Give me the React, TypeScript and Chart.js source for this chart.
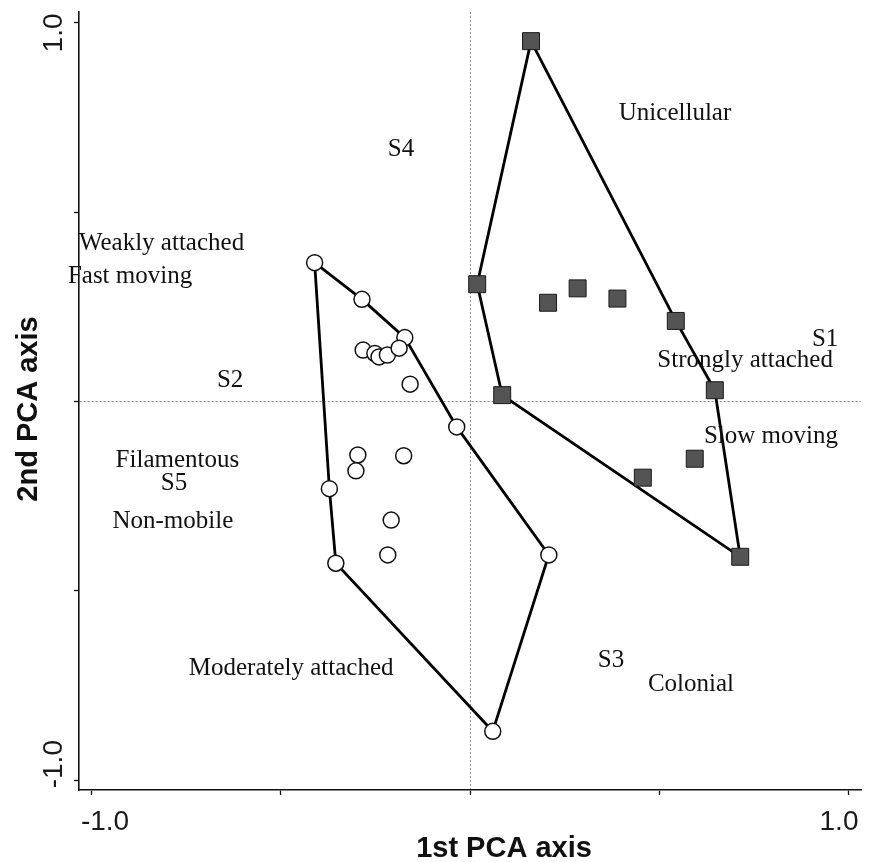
import React, { useEffect, useRef } from 'react';
import { Chart, registerables } from 'chart.js';

Chart.register(...registerables);

// Group 1 (filled squares)
const squareX = [0.161, 0.019, 0.206, 0.284, 0.389, 0.543, 0.085, 0.646, 0.593, 0.456, 0.713];
const squareY = [0.952, 0.31, 0.261, 0.299, 0.272, 0.213, 0.017, 0.03, -0.151, -0.201, -0.41];
const squareHull = [0, 5, 7, 10, 6, 1, 0];

// Group 2 (open circles)
const circleX = [-0.41, -0.285, -0.172, -0.282, -0.251, -0.24, -0.218, -0.187, -0.158, -0.035, -0.296, -0.301, -0.175, -0.371, -0.208, -0.217, -0.354, 0.208, 0.06];
const circleY = [0.367, 0.27, 0.169, 0.136, 0.127, 0.118, 0.123, 0.141, 0.046, -0.067, -0.141, -0.183, -0.143, -0.23, -0.313, -0.405, -0.427, -0.405, -0.871];
const circleHull = [0, 1, 2, 9, 17, 18, 16, 13, 0];

// Variable / trait labels (PCA coordinates)
const labelTexts = ['Unicellular', 'S4', 'Weakly attached', 'Fast moving', 'S2', 'Filamentous', 'S5', 'Non-mobile', 'S1', 'Strongly attached', 'Slow moving', 'Moderately attached', 'S3', 'Colonial'];
const labelX = [0.541, -0.182, -0.814, -0.897, -0.633, -0.772, -0.781, -0.784, 0.937, 0.726, 0.794, -0.472, 0.372, 0.583];
const labelY = [0.744, 0.649, 0.4, 0.313, 0.038, -0.173, -0.234, -0.334, 0.147, 0.091, -0.11, -0.723, -0.7, -0.764];

// Axes
const tickValues = [-1, -0.5, 0, 0.5, 1];
const tickLabels = ['-1.0', '', '', '', '1.0'];
const xTitle = '1st PCA axis';
const yTitle = '2nd PCA axis';
const axisMin = -1.0317;
const axisMax = 1.0317;
const yAxisMin = -1.026;
const yAxisMax = 1.029;

const overlay = {
  id: 'overlay',
  afterDraw(chart: any) {
    const { ctx, chartArea } = chart;
    const xs = chart.scales.x;
    const ys = chart.scales.y;
    ctx.save();
    // trait labels
    ctx.font = '25px "Liberation Serif", "Times New Roman", serif';
    ctx.fillStyle = '#111';
    ctx.textAlign = 'center';
    ctx.textBaseline = 'alphabetic';
    labelTexts.forEach((t, i) => {
      ctx.fillText(t, xs.getPixelForValue(labelX[i]), ys.getPixelForValue(labelY[i]));
    });
    // tick labels
    ctx.font = '28px "Liberation Sans", Arial, sans-serif';
    ctx.fillStyle = '#1a1a1a';
    tickValues.forEach((v, i) => {
      const t = tickLabels[i];
      if (!t) return;
      const px = xs.getPixelForValue(v) + (v < 0 ? 14 : -10);
      ctx.textAlign = 'center';
      ctx.fillText(t, px, chartArea.bottom + 40);
    });
    tickValues.forEach((v, i) => {
      const t = tickLabels[i];
      if (!t) return;
      const py = ys.getPixelForValue(v) + (v > 0 ? 10 : -16);
      ctx.save();
      ctx.translate(chartArea.left - 17, py);
      ctx.rotate(-Math.PI / 2);
      ctx.textAlign = 'center';
      ctx.fillText(t, 0, 0);
      ctx.restore();
    });
    // axis titles
    ctx.font = 'bold 29px "Liberation Sans", Arial, sans-serif';
    ctx.fillStyle = '#111';
    ctx.textAlign = 'center';
    ctx.fillText(xTitle, (chartArea.left + chartArea.right) / 2 + 34, chartArea.bottom + 67);
    ctx.save();
    ctx.translate(chartArea.left - 42, (chartArea.top + chartArea.bottom) / 2 + 8);
    ctx.rotate(-Math.PI / 2);
    ctx.fillText(yTitle, 0, 0);
    ctx.restore();
    ctx.restore();
  },
};

function axisOptions(min: number, max: number, fit: (s: any) => void) {
  return {
    type: 'linear' as const,
    min,
    max,
    afterBuildTicks: (s: any) => {
      s.ticks = tickValues.map((v) => ({ value: v }));
    },
    afterFit: fit,
    ticks: { display: false },
    grid: {
      color: (c: any) => (c.tick && c.tick.value === 0 ? '#8c8c8c' : 'rgba(0,0,0,0)'),
      lineWidth: 1,
      drawOnChartArea: true,
      drawTicks: true,
      tickLength: 5,
      tickColor: '#111',
      tickWidth: 1.3,
    },
    border: { display: true, color: '#111', width: 1.6, dash: [2, 2] },
  };
}

export default function App() {
  const ref = useRef<HTMLCanvasElement | null>(null);
  useEffect(() => {
    document.body.style.margin = '0';
    const canvas = ref.current;
    if (!canvas) return;
    const chart = new Chart(canvas, {
      type: 'scatter',
      data: {
        datasets: [
          {
            label: 'Group 2',
            data: circleX.map((x, i) => ({ x, y: circleY[i] })),
            pointStyle: 'circle',
            pointRadius: 8,
            pointBackgroundColor: '#ffffff',
            pointBorderColor: '#111',
            pointBorderWidth: 1.5,
            order: 0,
          },
          {
            label: 'Group 1',
            data: squareX.map((x, i) => ({ x, y: squareY[i] })),
            pointStyle: 'rect',
            pointRadius: 12,
            pointBackgroundColor: '#545454',
            pointBorderColor: '#1a1a1a',
            pointBorderWidth: 1,
            order: 0,
          },
          {
            label: 'Hull 2',
            data: circleHull.map((i) => ({ x: circleX[i], y: circleY[i] })),
            showLine: true,
            pointRadius: 0,
            borderColor: '#000',
            borderWidth: 2.8,
            fill: false,
            tension: 0,
            order: 1,
          },
          {
            label: 'Hull 1',
            data: squareHull.map((i) => ({ x: squareX[i], y: squareY[i] })),
            showLine: true,
            pointRadius: 0,
            borderColor: '#000',
            borderWidth: 2.8,
            fill: false,
            tension: 0,
            order: 1,
          },
        ] as any,
      },
      options: {
        responsive: false,
        animation: false,
        devicePixelRatio: 1,
        layout: { autoPadding: false, padding: { top: 12, right: 9, left: 0, bottom: 0 } },
        plugins: { legend: { display: false }, tooltip: { enabled: false } },
        scales: {
          x: axisOptions(axisMin, axisMax, (s: any) => {
            s.height = 72;
          }),
          y: axisOptions(yAxisMin, yAxisMax, (s: any) => {
            s.width = 79;
          }),
        } as any,
      },
      plugins: [overlay],
    });
    return () => chart.destroy();
  }, []);
  return (
    <div style={{ position: 'fixed', left: 0, top: 0, width: 870, height: 862, background: '#fff' }}>
      <canvas ref={ref} width={870} height={862} />
    </div>
  );
}
